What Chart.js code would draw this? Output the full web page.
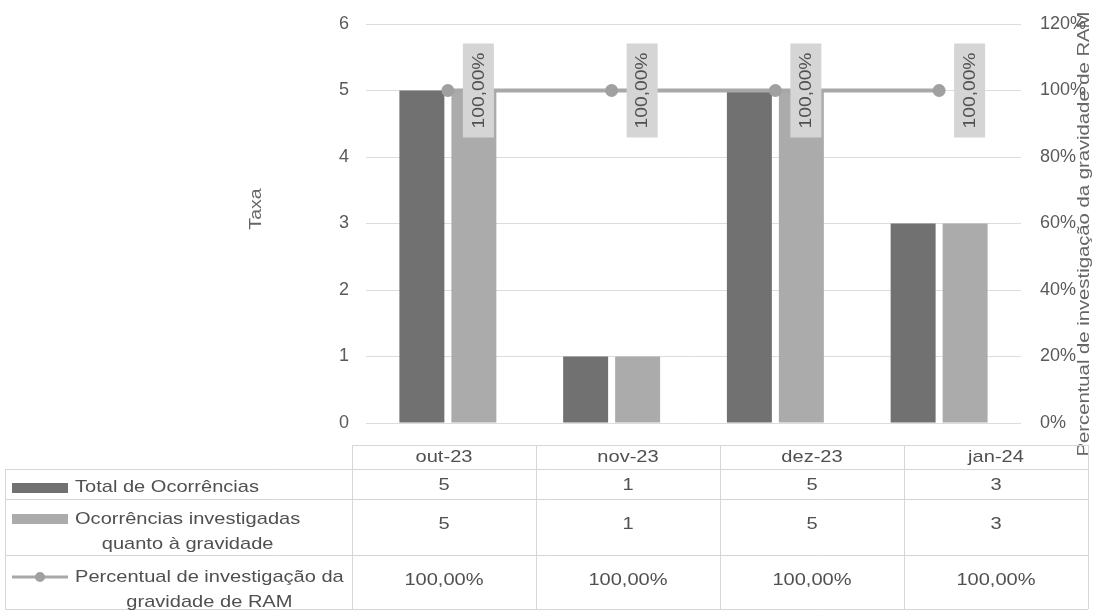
<!DOCTYPE html>
<html lang="pt">
<head>
<meta charset="utf-8">
<title>Percentual de investigação da gravidade de RAM</title>
<script src="https://cdn.jsdelivr.net/npm/chart.js@4.4.1/dist/chart.umd.min.js"></script>
<style>
    html, body { margin: 0; padding: 0; background: #fff; }
    #wrap { width: 1096px; height: 611px; position: relative; }
</style>
</head>
<body>
<div id="wrap"><canvas id="ramChart"></canvas></div>
<script>
// Chart.js defaults
Chart.defaults.font.family = "'Liberation Sans', Arial, sans-serif";
Chart.defaults.color = '#5a5a5a';
Chart.defaults.responsive = true;
Chart.defaults.maintainAspectRatio = false;
Chart.defaults.animation = false;

// Data
const months = ['out-23', 'nov-23', 'dez-23', 'jan-24'];
const totalOcorrencias = [5, 1, 5, 3];
const ocorrenciasInvestigadas = [5, 1, 5, 3];
const percentualInvestigacao = [100, 100, 100, 100];

const legendTotal = ['Total de Ocorrências'];
const legendInvestigadas = ['Ocorrências investigadas', 'quanto à gravidade'];
const legendPercentual = ['Percentual de investigação da', 'gravidade de RAM'];
const leftTitle = 'Taxa';
const rightTitle = 'Percentual de investigação da gravidade de RAM';

// Colours
const DARK_BAR = '#717171';
const LIGHT_BAR = '#ababab';
const LINE_COLOR = '#a8a8a8';
const TEXT_COLOR = '#505050';
const GRID_COLOR = '#dcdcdc';

function formatPct(v) {
    return v.toFixed(2).replace('.', ',') + '%';
}

// draws text stretched along its own length
function scaledText(ctx, text, x, y, sx, rot) {
    ctx.save();
    ctx.translate(x, y);
    if (rot) ctx.rotate(rot);
    ctx.scale(sx, 1);
    ctx.fillText(text, 0, 0);
    ctx.restore();
}

// Rotated value labels over the line points
const pointLabels = {
    id: 'pointLabels',
    afterDatasetsDraw(chart) {
        const ctx = chart.ctx;
        const meta = chart.getDatasetMeta(2);
        ctx.save();
        ctx.font = "17px 'Liberation Sans', Arial, sans-serif";
        ctx.textAlign = 'center';
        ctx.textBaseline = 'middle';
        meta.data.forEach((pt, i) => {
            ctx.fillStyle = '#d5d5d5';
            ctx.fillRect(pt.x + 15, pt.y - 47, 31, 94);
            ctx.fillStyle = TEXT_COLOR;
            scaledText(ctx, formatPct(percentualInvestigacao[i]), pt.x + 31, pt.y, 1.13, -Math.PI / 2);
        });
        ctx.restore();
    }
};

// Axis titles + data table under the plot
const dataTable = {
    id: 'dataTable',
    afterDraw(chart) {
        const ctx = chart.ctx;
        const tableLeft = 352;
        const colW = 184;
        const tableRight = tableLeft + colW * months.length;
        const rows = [445, 469, 499, 555, 609];
        const sx = 1.18;

        ctx.save();
        ctx.font = "17px 'Liberation Sans', Arial, sans-serif";
        ctx.textBaseline = 'middle';
        ctx.fillStyle = '#666';
        ctx.textAlign = 'center';

        // axis titles
        scaledText(ctx, leftTitle, 256, 209, 1.15, -Math.PI / 2);
        const natural = ctx.measureText(rightTitle).width;
        scaledText(ctx, rightTitle, 1084, 234, 445 / natural, -Math.PI / 2);

        // grid of the table
        ctx.strokeStyle = '#d6d6d6';
        ctx.lineWidth = 1;
        ctx.beginPath();
        ctx.moveTo(tableLeft, rows[0] + 0.5);
        ctx.lineTo(tableRight, rows[0] + 0.5);
        for (let r = 1; r < rows.length; r++) {
            ctx.moveTo(5, rows[r] + 0.5);
            ctx.lineTo(tableRight, rows[r] + 0.5);
        }
        for (let c = 0; c <= months.length; c++) {
            const x = tableLeft + c * colW + 0.5;
            ctx.moveTo(x, rows[0]);
            ctx.lineTo(x, rows[4]);
        }
        ctx.moveTo(5.5, rows[1]);
        ctx.lineTo(5.5, rows[4]);
        ctx.stroke();

        // values
        ctx.fillStyle = TEXT_COLOR;
        months.forEach((m, i) => {
            const cx = tableLeft + colW * (i + 0.5);
            scaledText(ctx, m, cx, 457, sx);
            scaledText(ctx, String(totalOcorrencias[i]), cx, 485, sx);
            scaledText(ctx, String(ocorrenciasInvestigadas[i]), cx, 524, sx);
            scaledText(ctx, formatPct(percentualInvestigacao[i]), cx, 580, sx);
        });

        // legend keys
        ctx.fillStyle = DARK_BAR;
        ctx.fillRect(12, 483, 56, 10);
        ctx.fillStyle = LIGHT_BAR;
        ctx.fillRect(12, 514, 56, 10);
        ctx.strokeStyle = LINE_COLOR;
        ctx.lineWidth = 3;
        ctx.beginPath();
        ctx.moveTo(12, 577);
        ctx.lineTo(68, 577);
        ctx.stroke();
        ctx.fillStyle = '#a0a0a0';
        ctx.beginPath();
        ctx.arc(40, 577, 5, 0, Math.PI * 2);
        ctx.fill();

        // legend texts, second line centred under the first
        ctx.fillStyle = TEXT_COLOR;
        ctx.textAlign = 'left';
        const blocks = [[legendTotal, 487], [legendInvestigadas, 519], [legendPercentual, 577]];
        blocks.forEach(([lines, y]) => {
            scaledText(ctx, lines[0], 75, y, sx);
            if (lines[1]) {
                const w1 = ctx.measureText(lines[0]).width * sx;
                const w2 = ctx.measureText(lines[1]).width * sx;
                scaledText(ctx, lines[1], 75 + w1 / 2 - w2 / 2, y + 25, sx);
            }
        });
        ctx.restore();
    }
};

const ctx = document.getElementById('ramChart').getContext('2d');
new Chart(ctx, {
    type: 'bar',
    data: {
        labels: months,
        datasets: [
            {
                label: 'Total de Ocorrências',
                data: totalOcorrencias,
                backgroundColor: DARK_BAR,
                yAxisID: 'y',
                order: 1,
                barPercentage: 0.865,
                categoryPercentage: 0.635
            },
            {
                label: 'Ocorrências investigadas quanto à gravidade',
                data: ocorrenciasInvestigadas,
                backgroundColor: LIGHT_BAR,
                yAxisID: 'y',
                order: 1,
                barPercentage: 0.865,
                categoryPercentage: 0.635
            },
            {
                type: 'line',
                label: 'Percentual de investigação da gravidade de RAM',
                data: percentualInvestigacao,
                borderColor: LINE_COLOR,
                backgroundColor: '#a0a0a0',
                borderWidth: 4,
                pointRadius: 6.5,
                pointBorderWidth: 0,
                pointBackgroundColor: '#a0a0a0',
                yAxisID: 'y1',
                order: 0
            }
        ]
    },
    options: {
        layout: { padding: { top: 24, bottom: 188, left: 0, right: 0 } },
        plugins: {
            legend: { display: false },
            tooltip: { enabled: false }
        },
        scales: {
            x: { display: false },
            y: {
                position: 'left',
                min: 0,
                max: 6,
                ticks: { stepSize: 1, padding: 17, font: { size: 18 }, color: '#5a5a5a' },
                grid: { color: GRID_COLOR, drawTicks: false },
                border: { display: false },
                afterFit(scale) {
                    scale.width = 366;
                    scale.paddingTop = 0;
                    scale.paddingBottom = 0;
                }
            },
            y1: {
                position: 'right',
                min: 0,
                max: 120,
                ticks: {
                    stepSize: 20,
                    padding: 19,
                    font: { size: 18 },
                    color: '#5a5a5a',
                    callback: v => v + '%'
                },
                grid: { display: false, drawTicks: false },
                border: { display: false },
                afterFit(scale) {
                    scale.width = 75;
                    scale.paddingTop = 0;
                    scale.paddingBottom = 0;
                }
            }
        }
    },
    plugins: [pointLabels, dataTable]
});
</script>
</body>
</html>
